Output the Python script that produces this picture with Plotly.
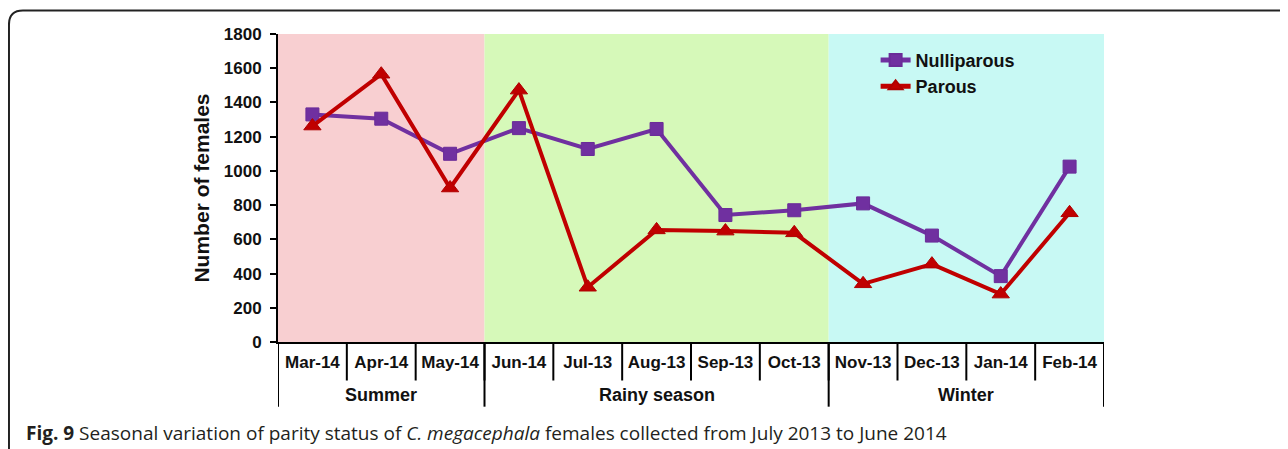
import plotly.graph_objects as go

months = ["Mar-14", "Apr-14", "May-14", "Jun-14", "Jul-13", "Aug-13",
          "Sep-13", "Oct-13", "Nov-13", "Dec-13", "Jan-14", "Feb-14"]
seasons = ["Summer", "Rainy season", "Winter"]
season_spans = [(0, 2), (3, 7), (8, 11)]
season_colors = ["#f8cfd1", "#d6f9b9", "#c8f9f4"]
nulliparous = [1330, 1305, 1100, 1250, 1128, 1245, 742, 770, 810, 622, 385, 1025]
parous = [1262, 1565, 900, 1472, 320, 655, 648, 638, 340, 455, 280, 755]
y_ticks = list(range(0, 1801, 200))

FONT = "Liberation Sans, Arial, sans-serif"
fig = go.Figure()

fig.add_trace(go.Scatter(
    x=months, y=nulliparous, name="<b>Nulliparous</b>", mode="lines+markers",
    line=dict(color="#7030a0", width=4),
    marker=dict(symbol="square", size=13, color="#7030a0",
                line=dict(color="#6a2c98", width=1)),
))
fig.add_trace(go.Scatter(
    x=months, y=parous, name="<b>Parous</b>", mode="lines+markers",
    line=dict(color="#c00000", width=4),
    marker=dict(symbol="triangle-up", size=15, color="#c00000",
                line=dict(color="#b00000", width=1)),
))

shapes = []
for (a, b), c in zip(season_spans, season_colors):
    shapes.append(dict(type="rect", xref="x", yref="paper", x0=a - 0.5, x1=b + 0.5,
                       y0=0, y1=1, fillcolor=c, line=dict(width=0), layer="below"))
for i in range(len(months) - 1):
    shapes.append(dict(type="line", xref="x", yref="paper", x0=i + 0.5, x1=i + 0.5,
                       y0=0, y1=-0.125, line=dict(color="black", width=2)))
bounds = [season_spans[0][0] - 0.5] + [b + 0.5 for a, b in season_spans]
for xb in bounds:
    shapes.append(dict(type="line", xref="x", yref="paper", x0=xb, x1=xb,
                       y0=0, y1=-0.21, line=dict(color="black", width=2)))

# outer rounded frame
rx, ry = 14 / 826, 14 / 307
x0, yt = -0.3257, 1.076
shapes.append(dict(type="path", xref="paper", yref="paper",
                   path=f"M {x0},-0.6 L {x0},{yt-ry} Q {x0},{yt} {x0+rx},{yt} L 1.4,{yt}",
                   line=dict(color="#222222", width=2)))

annotations = []
for (a, b), s in zip(season_spans, seasons):
    annotations.append(dict(x=(a + b) / 2, y=-0.1726, xref="x", yref="paper",
                            text=f"<b>{s}</b>", showarrow=False,
                            font=dict(family=FONT, size=18, color="#111111"),
                            yanchor="middle"))
annotations.append(dict(
    x=-0.308, y=-0.296, xref="paper", yref="paper", xanchor="left", yanchor="middle",
    showarrow=False,
    text="<b>Fig. 9</b> Seasonal variation of parity status of <i>C. megacephala</i> females collected from July 2013 to June 2014",
    font=dict(family="Open Sans, sans-serif", size=19, color="#231f20"),
))

fig.update_layout(
    width=1280, height=441,
    margin=dict(l=270, r=184, t=26, b=107),
    paper_bgcolor="white", plot_bgcolor="white",
    shapes=shapes, annotations=annotations,
    showlegend=True,
    legend=dict(x=0.7235, y=0.975, xanchor="left", yanchor="top",
                bgcolor="rgba(0,0,0,0)", font=dict(family=FONT, size=18, color="#111111"),
                tracegroupgap=0, itemsizing="constant"),
    font=dict(family=FONT),
)
fig.update_xaxes(
    type="category", range=[-0.5, 11.5], showgrid=False,
    showline=True, linecolor="black", linewidth=2,
    ticks="", ticklabelstandoff=4,
    tickfont=dict(family=FONT, size=17, color="#111111"),
    tickvals=months, ticktext=[f"<b>{m}</b>" for m in months],
)
fig.update_yaxes(
    range=[0, 1800], tickvals=y_ticks, ticktext=[f"<b>{v}</b>" for v in y_ticks],
    showgrid=False, zeroline=False,
    showline=True, linecolor="black", linewidth=2,
    ticks="outside", ticklen=6, tickwidth=2, tickcolor="black",
    ticklabelstandoff=5,
    tickfont=dict(family=FONT, size=17, color="#111111"),
    title=dict(text="<b>Number of females</b>", font=dict(family=FONT, size=21, color="#111111"),
               standoff=8),
)

fig.write_html("out.html")
